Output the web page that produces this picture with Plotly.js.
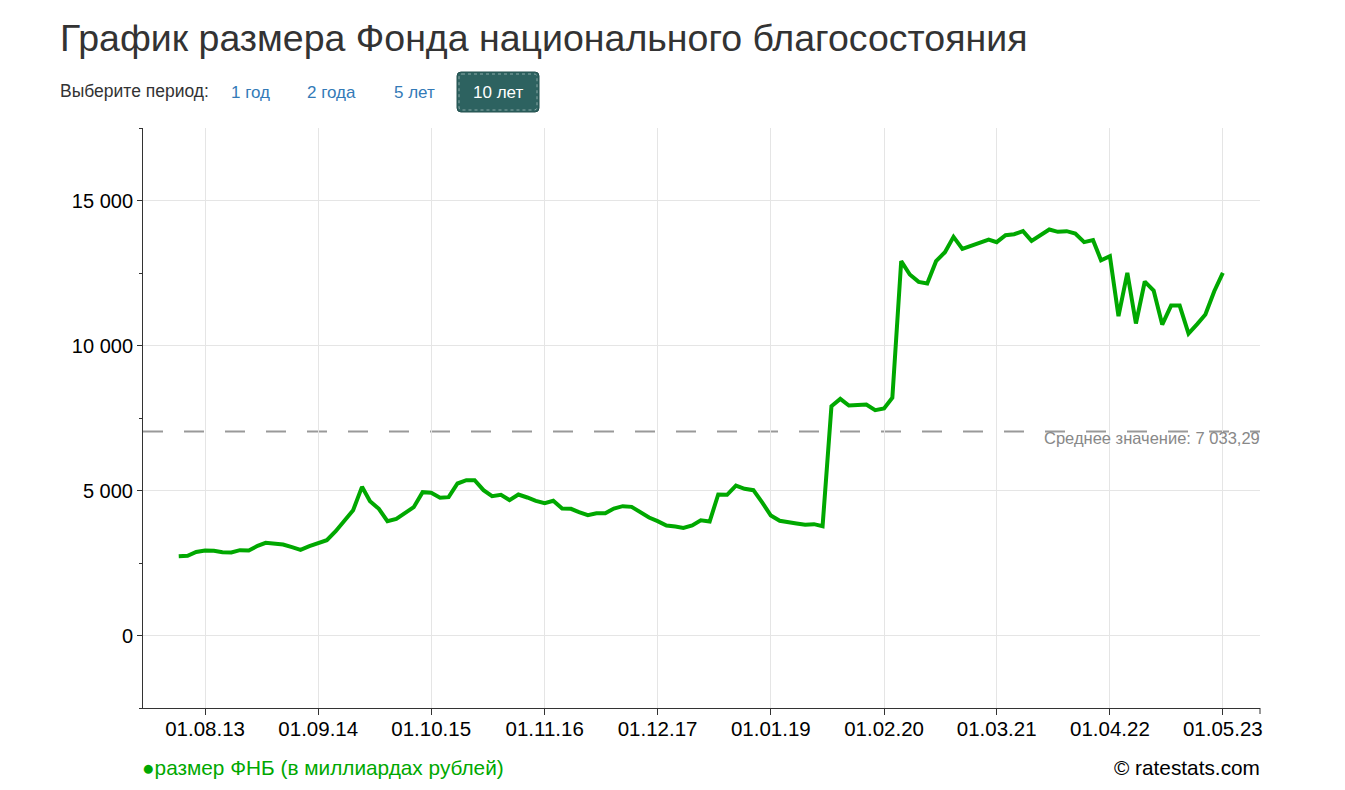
<!DOCTYPE html>
<html>
<head>
<meta charset="utf-8">
<script src="https://cdn.plot.ly/plotly-3.0.1.min.js"></script>
<style>
  html, body { margin:0; padding:0; background:#fff; }
  #chart { width:1345px; height:790px; }
</style>
</head>
<body>
<div id="chart"></div>
<script>
// ---------- DATA ----------
const TITLE = 'График размера Фонда национального благосостояния';
const SERIES_NAME = 'размер ФНБ (в миллиардах рублей)';
const PERIOD_LABEL = 'Выберите период:';
const PERIOD_BUTTONS = ['1 год', '2 года', '5 лет', '10 лет'];
const ACTIVE_BUTTON = '10 лет';
const AVERAGE_VALUE = 7033.29;
const AVERAGE_LABEL = 'Среднее значение: 7 033,29';
const COPYRIGHT = '© ratestats.com';

const dates = [
  '2013-05-01','2013-06-01','2013-07-01','2013-08-01','2013-09-01','2013-10-01','2013-11-01','2013-12-01',
  '2014-01-01','2014-02-01','2014-03-01','2014-04-01','2014-05-01','2014-06-01','2014-07-01','2014-08-01','2014-09-01','2014-10-01','2014-11-01','2014-12-01',
  '2015-01-01','2015-02-01','2015-03-01','2015-04-01','2015-05-01','2015-06-01','2015-07-01','2015-08-01','2015-09-01','2015-10-01','2015-11-01','2015-12-01',
  '2016-01-01','2016-02-01','2016-03-01','2016-04-01','2016-05-01','2016-06-01','2016-07-01','2016-08-01','2016-09-01','2016-10-01','2016-11-01','2016-12-01',
  '2017-01-01','2017-02-01','2017-03-01','2017-04-01','2017-05-01','2017-06-01','2017-07-01','2017-08-01','2017-09-01','2017-10-01','2017-11-01','2017-12-01',
  '2018-01-01','2018-02-01','2018-03-01','2018-04-01','2018-05-01','2018-06-01','2018-07-01','2018-08-01','2018-09-01','2018-10-01','2018-11-01','2018-12-01',
  '2019-01-01','2019-02-01','2019-03-01','2019-04-01','2019-05-01','2019-06-01','2019-07-01','2019-08-01','2019-09-01','2019-10-01','2019-11-01','2019-12-01',
  '2020-01-01','2020-02-01','2020-03-01','2020-04-01','2020-05-01','2020-06-01','2020-07-01','2020-08-01','2020-09-01','2020-10-01','2020-11-01','2020-12-01',
  '2021-01-01','2021-02-01','2021-03-01','2021-04-01','2021-05-01','2021-06-01','2021-07-01','2021-08-01','2021-09-01','2021-10-01','2021-11-01','2021-12-01',
  '2022-01-01','2022-02-01','2022-03-01','2022-04-01','2022-05-01','2022-06-01','2022-07-01','2022-08-01','2022-09-01','2022-10-01','2022-11-01','2022-12-01',
  '2023-01-01','2023-02-01','2023-03-01','2023-04-01','2023-05-01'
];

const fundSize = [
  2734, 2750, 2880, 2931, 2920, 2874, 2862, 2942,
  2931, 3092, 3195, 3150, 3138, 3046, 2954, 3080, 3172, 3287, 3597, 3942,
  4321, 5126, 4632, 4367, 3942, 4023, 4206, 4424, 4942, 4920, 4748, 4770,
  5241, 5355, 5355, 5011, 4805, 4850, 4667, 4862, 4759, 4644, 4563, 4644,
  4379, 4368, 4253, 4149, 4218, 4218, 4379, 4459, 4436, 4253, 4069, 3942,
  3793, 3758, 3712, 3793, 3970, 3931, 4862, 4851, 5172, 5058, 5011, 4598,
  4138, 3954, 3897, 3862, 3816, 3839, 3770, 7906, 8160, 7930, 7950, 7965,
  7769, 7827, 8196, 12907, 12448, 12195, 12137, 12907, 13218, 13747, 13333, 13448,
  13540, 13655, 13563, 13805, 13839, 13943, 13609, 13793, 14000, 13920, 13943, 13862,
  13563, 13632, 12941, 13080, 11010, 12506, 10758, 12206, 11896, 10723, 11378, 11378,
  10413, 10747, 11068, 11872, 12506
];

const xTickDates = ['2013-08-01','2014-09-01','2015-10-01','2016-11-01','2017-12-01','2019-01-01','2020-02-01','2021-03-01','2022-04-01','2023-05-01'];
const xRange = ['2012-12-27', '2023-09-08'];
const yTicks = [0, 5000, 10000, 15000];
const yMinorTicks = [-2500, 2500, 7500, 12500, 17500];
const yRange = [-2500, 17500];

// ---------- LAYOUT HELPERS ----------
const W = 1345, H = 790;
const M = {l:143, r:85, t:128, b:82};
const PW = W - M.l - M.r, PH = H - M.t - M.b;
const px = v => (v - M.l) / PW;          // page x -> paper x
const py = v => (H - M.b - v) / PH;      // page y -> paper y

const GREEN = '#00a800';
const FONT = '"Liberation Sans", Arial, Helvetica, sans-serif';

function roundedRect(x0, y0, x1, y1, r) {
  const rx = r / PW, ry = r / PH;
  const X0 = px(x0), X1 = px(x1), Y0 = py(y1), Y1 = py(y0);
  return `M${X0+rx},${Y1} L${X1-rx},${Y1} Q${X1},${Y1} ${X1},${Y1-ry} ` +
         `L${X1},${Y0+ry} Q${X1},${Y0} ${X1-rx},${Y0} L${X0+rx},${Y0} ` +
         `Q${X0},${Y0} ${X0},${Y0+ry} L${X0},${Y1-ry} Q${X0},${Y1} ${X0+rx},${Y1} Z`;
}

const trace = {
  x: dates, y: fundSize, type: 'scatter', mode: 'lines',
  name: SERIES_NAME,
  line: {color: GREEN, width: 4},
  hoverinfo: 'x+y', showlegend: false
};

const btnCenters = [250, 331, 414, 498];

const annotations = [
  {xref:'paper', yref:'paper', x: px(58), y: py(91), xanchor:'left', yanchor:'middle',
   text: PERIOD_LABEL, showarrow:false, font:{family:FONT, size:17.5, color:'#333'}}
];
PERIOD_BUTTONS.forEach((b, i) => {
  const active = b === ACTIVE_BUTTON;
  annotations.push({xref:'paper', yref:'paper', x: px(btnCenters[i]), y: py(92), xanchor:'center', yanchor:'middle',
    text: b, showarrow:false, font:{family:FONT, size:17, color: active ? '#ffffff' : '#337ab7'}});
});
annotations.push(
  {xref:'paper', yref:'y', x: 1, y: AVERAGE_VALUE, xanchor:'right', yanchor:'middle', yshift: -6, xshift: 2,
   text: AVERAGE_LABEL, showarrow:false, font:{family:FONT, size:16.5, color:'#888'}},
  {xref:'paper', yref:'paper', x: px(140), y: py(767), xanchor:'left', yanchor:'middle',
   text: '●' + SERIES_NAME, showarrow:false, font:{family:FONT, size:20.8, color:GREEN}},
  {xref:'paper', yref:'paper', x: 1, y: py(767), xanchor:'right', yanchor:'middle', xshift: 2,
   text: COPYRIGHT, showarrow:false, font:{family:FONT, size:20.8, color:'#000'}}
);

const shapes = [
  {type:'line', xref:'paper', yref:'y', x0:0, x1:1, y0:AVERAGE_VALUE, y1:AVERAGE_VALUE,
   line:{color:'#999', width:2, dash:'20px,21px'}, layer:'below'},
  {type:'path', xref:'paper', yref:'paper', path: roundedRect(457, 72, 539, 112, 4),
   fillcolor:'#2d6260', line:{color:'#24504e', width:1}},
  {type:'path', xref:'paper', yref:'paper', path: roundedRect(459, 74, 537, 110, 3),
   fillcolor:'rgba(0,0,0,0)', line:{color:'rgba(255,255,255,0.45)', width:1, dash:'dot'}},
  {type:'line', xref:'paper', yref:'paper', x0:1, x1:1, y0:0, y1:py(714),
   line:{color:'#333', width:1}}
];

const layout = {
  width: W, height: H,
  margin: M,
  paper_bgcolor:'#fff', plot_bgcolor:'#fff',
  separators: ', ',
  font: {family: FONT, color:'#000'},
  title: {text: TITLE, xref:'container', yref:'container', x: 60/W, xanchor:'left',
          y: 1 - 38/H, yanchor:'middle', font:{family:FONT, size:37.5, color:'#333'}},
  xaxis: {
    type:'date', range: xRange, tickvals: xTickDates, tickformat:'%d.%m.%y',
    ticks:'outside', ticklen:6, tickcolor:'#333', tickwidth:1, ticklabelstandoff:-4,
    showline:true, linecolor:'#333', linewidth:1,
    showgrid:true, gridcolor:'#e5e5e5', gridwidth:1, zeroline:false,
    tickfont:{family:FONT, size:20.5, color:'#000'}, fixedrange:true
  },
  yaxis: {
    range: yRange, tickvals: yTicks, tickformat:',d',
    ticks:'outside', ticklen:5, tickcolor:'#333', tickwidth:1,
    minor:{tickvals: yMinorTicks, ticks:'outside', ticklen:3, tickcolor:'#333', showgrid:false},
    showline:true, linecolor:'#333', linewidth:1,
    showgrid:true, gridcolor:'#e5e5e5', gridwidth:1, zeroline:false,
    tickfont:{family:FONT, size:20, color:'#000'}, fixedrange:true
  },
  annotations, shapes,
  showlegend:false
};

Plotly.newPlot('chart', [trace], layout, {displayModeBar:false, responsive:false});
</script>
</body>
</html>
